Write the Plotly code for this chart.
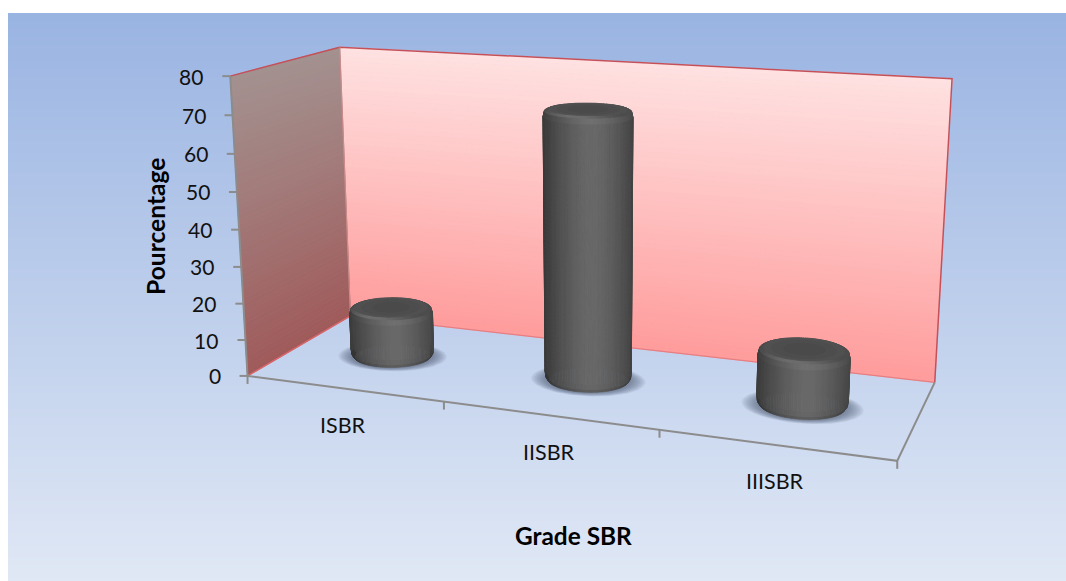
import numpy as np
import plotly.graph_objects as go

categories = ["ISBR", "IISBR", "IIISBR"]
values = [14, 72, 15]
z_ticks = [0, 10, 20, 30, 40, 50, 60, 70, 80]
z_max = 80

x_title = "Grade SBR"
y_title = "Pourcentage"

# Pixel anchors of the chart box corners: (category, depth, height) in unit box -> screen
BOX_ANCHORS = {
    (0, 0, 0): (248, 375), (1, 0, 0): (897, 462), (1, 1, 0): (935, 381), (0, 1, 0): (350, 317),
    (0, 0, 1): (230, 76), (0, 1, 1): (340, 47), (1, 1, 1): (952, 79),
}


def solve_projection(anchors):
    # Direct linear transform: a 3x4 projective camera for the oblique box
    rows = []
    for (u, v, w), (sx, sy) in anchors.items():
        rows.append([u, v, w, 1, 0, 0, 0, 0, -sx * u, -sx * v, -sx * w, -sx])
        rows.append([0, 0, 0, 0, u, v, w, 1, -sy * u, -sy * v, -sy * w, -sy])
    _, _, vt = np.linalg.svd(np.array(rows, float))
    return vt[-1].reshape(3, 4)


CAM = solve_projection(BOX_ANCHORS)


def project(cat, depth, val):
    """Category position (0..n), depth (0..1) and value (0..z_max) to screen pixels."""
    cat, depth, val = np.broadcast_arrays(np.asarray(cat, float), np.asarray(depth, float), np.asarray(val, float))
    pts = np.stack([cat / len(categories), depth, val / z_max, np.ones_like(cat)])
    h = np.tensordot(CAM, pts, axes=1)
    return h[0] / h[2], h[1] / h[2]


fig = go.Figure()


def gray(g):
    g = int(round(g))
    return f"rgb({g},{g},{g})"


def lerp(a, b, t):
    return tuple(a[i] + (b[i] - a[i]) * t for i in range(len(a)))


def rgb(c):
    return "rgb(%d,%d,%d)" % tuple(round(v) for v in c)


def polys(groups, seam=0.8):
    # One filled trace per colour; a thin same-colour outline closes the seams between pieces
    for color, items in groups.items():
        xs, ys = [], []
        for px, py in items:
            xs += list(px) + [px[0], None]
            ys += list(py) + [py[0], None]
        fig.add_trace(go.Scatter(x=xs, y=ys, mode="lines", fill="toself", fillcolor=color,
                                 line=dict(color=color, width=seam), hoverinfo="skip", connectgaps=False))


def edge(xa, ya, color, width):
    fig.add_trace(go.Scatter(x=xa, y=ya, mode="lines", line=dict(color=color, width=width), hoverinfo="skip"))


n_cat = len(categories)

# Back wall and side wall, shaded from floor to top
steps = np.linspace(0, z_max, 61)
back = {}
side = {}
for a, b in zip(steps[:-1], steps[1:]):
    t = a / z_max
    x, y = project([0, n_cat, n_cat, 0], 1, [a, a, b, b])
    back.setdefault(rgb(lerp((255, 156, 156), (255, 226, 226), t)), []).append((x, y))
    x, y = project(0, [0, 1, 1, 0], [a, a, b, b])
    side.setdefault(rgb(lerp((160, 90, 90), (163, 146, 144), t)), []).append((x, y))
polys(back)
polys(side)

# Floor edges and wall outlines
RED = "#C4515A"
GRAY = "#8C8C8C"
x, y = project([0, 0], [0, 1], [0, 0]); edge(x, y, "#D9666B", 1.5)
x, y = project([0, n_cat], 1, [0, 0]); edge(x, y, "#E57F84", 1.2)
x, y = project([0, 0, n_cat, n_cat], [0, 1, 1, 1], [z_max, z_max, z_max, 0]); edge(x, y, RED, 1.5)
x, y = project(0, 1, [0, z_max]); edge(x, y, "#C98A8A", 1.2)
x, y = project([0, 0, n_cat, n_cat], [0, 0, 0, 1], [z_max, 0, 0, 0]); edge(x, y, GRAY, 2)

# Axis tick marks
for t in z_ticks:
    x, y = project(0, 0, t)
    edge([x - 8, x], [y, y], GRAY, 2)
for c in range(n_cat + 1):
    x, y = project(c, 0, 0)
    edge([x, x], [y, y + 8], GRAY, 2)

# Cylinders: floor shadow, body, rim and cap
RX, RY, DEPTH = 0.2, 0.18, 0.49
theta = np.linspace(0, 2 * np.pi, 145)
BEV = 1.6
for i, v in enumerate(values):
    xc = i + 0.5


    def ring(r, h, th=theta, ry_scale=None):
        ry = r if ry_scale is None else ry_scale
        return project(xc + RX * r * np.cos(th), DEPTH + RY * ry * np.sin(th), h)


    for r in np.linspace(1.34, 1.0, 9):
        x, y = ring(r, 0, ry_scale=1 + (r - 1) * 0.6)
        fig.add_trace(go.Scatter(x=x, y=y, mode="lines", fill="toself", fillcolor="rgba(70,80,100,0.085)",
                                 line=dict(width=0), hoverinfo="skip"))

    # Screen-space extent of the body, used to shade it left to right
    sx, _ = ring(1, 0)
    cx, half = 0.5 * (sx.min() + sx.max()), 0.5 * (sx.max() - sx.min())

    # Body profile: (radius, height, brightness)
    prof = [(0.93, 0, 0.82), (0.985, BEV * 0.6, 0.95), (1, BEV * 1.5, 1), (1, v - BEV * 1.2, 1),
            (0.97, v - BEV * 0.3, 1.12)]
    for lo, hi in [(0, np.pi), (np.pi, 2 * np.pi)]:
        body = {}
        span = theta[(theta >= lo - 1e-9) & (theta <= hi + 1e-9)]
        for t0, t1 in zip(span[:-1], span[1:]):
            xm, _ = ring(1, 0, np.array([0.5 * (t0 + t1)]))
            nx = min(abs(float(xm[0]) - cx - 0.08 * half) / (1.08 * half), 1)
            g = 60 + 46 * (1 - nx ** 1.5)
            for k in range(len(prof) - 1):
                r0, h0, b0 = prof[k]
                r1, h1, b1 = prof[k + 1]
                xa, ya = ring(r0, h0, np.array([t0, t1]))
                xb, yb = ring(r1, h1, np.array([t1, t0]))
                key = gray(min(g * 0.5 * (b0 + b1), 255) // 2 * 2)
                body.setdefault(key, []).append((np.r_[xa, xb], np.r_[ya, yb]))
        polys(body, seam=0.5)

    # Bevelled rim, brightest along the front edge
    rim = {}
    for t0, t1 in zip(theta[:-1], theta[1:]):
        tm = 0.5 * (t0 + t1)
        g = 76 + 34 * max(0, -np.sin(tm)) ** 3
        xa, ya = ring(0.97, v - BEV * 0.3, np.array([t0, t1]))
        xb, yb = ring(0.88, v, np.array([t1, t0]))
        rim.setdefault(gray(g // 2 * 2), []).append((np.r_[xa, xb], np.r_[ya, yb]))
    polys(rim, seam=0.5)

    # Cap, slightly darker towards the centre
    for r, g in [(0.88, 80), (0.7, 77), (0.45, 74)]:
        polys({gray(g): [ring(r, v)]})

# Value axis and category labels
for t in z_ticks:
    x, y = project(0, 0, t)
    fig.add_annotation(x=float(x), y=float(y), text=str(t), showarrow=False, xanchor="right", yanchor="middle",
                       xshift=-25, font=dict(family="Lato", size=21, color="#111"))
for i, c in enumerate(categories):
    x, y = project(i + 0.5, 0, 0)
    fig.add_annotation(x=float(x), y=float(y), text=c, showarrow=False, xanchor="center", yanchor="middle",
                       yshift=-36.5, font=dict(family="Lato", size=21.5, color="#111"))

fig.add_annotation(x=155, y=227, text=f"<b>{y_title}</b>", textangle=-90, showarrow=False,
                   font=dict(family="Lato", size=24.6, color="#000"))
fig.add_annotation(x=573, y=535, text=f"<b>{x_title}</b>", showarrow=False,
                   font=dict(family="Lato", size=24.4, color="#000"))

# Panel background: vertical gradient behind everything
shapes = []
for top in range(13, 581, 4):
    c = lerp((154, 180, 226), (224, 232, 245), (top - 13) / 568)
    shapes.append(dict(type="rect", x0=8, x1=1066, y0=top, y1=top + 4, xref="x", yref="y", layer="below",
                       fillcolor=rgb(c), line=dict(width=0)))

fig.update_layout(width=1066, height=581, margin=dict(l=0, r=0, t=0, b=0), paper_bgcolor="#fff",
                  plot_bgcolor="rgba(0,0,0,0)", showlegend=False, shapes=shapes,
                  xaxis=dict(visible=False, range=[0, 1066], fixedrange=True),
                  yaxis=dict(visible=False, range=[581, 0], fixedrange=True))
fig.write_html("out.html")
